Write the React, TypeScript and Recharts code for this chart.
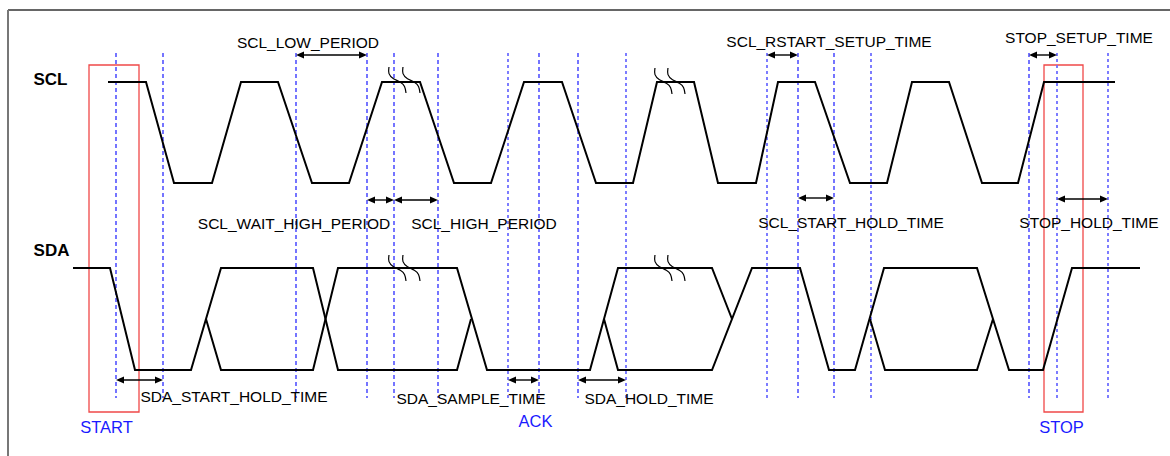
import React from 'react';
import { ComposedChart, Line, XAxis, YAxis, ReferenceLine, ReferenceArea, ReferenceDot } from 'recharts';

// ---- signal levels (diagram units, measured top-down) ----
const SCL_LEVELS: Record<string, number> = { H: 82, L: 183 };
const SDA_LEVELS: Record<string, number> = { H: 268, L: 370, M: 319 };

// ---- SCL waveform: edge times and states ----
const SCL_WAVE: [number, string][] = [
  [108, 'H'], [146, 'H'], [174, 'L'], [212, 'L'], [241, 'H'], [278, 'H'], [312, 'L'], [349, 'L'],
  [382, 'H'], [420, 'H'], [454, 'L'], [491, 'L'], [524, 'H'], [562, 'H'], [596, 'L'], [633, 'L'],
  [657, 'H'], [694, 'H'], [718, 'L'], [756, 'L'], [778, 'H'], [815, 'H'], [850, 'L'], [887, 'L'],
  [912, 'H'], [949, 'H'], [982, 'L'], [1018, 'L'], [1044, 'H'], [1115, 'H'],
];

// ---- SDA waveform (bus drawn as several traces) ----
const SDA_TRACE_1: [number, string][] = [
  [73, 'H'], [110, 'H'], [135, 'L'], [191, 'L'], [221, 'H'], [313, 'H'], [338, 'L'], [457, 'L'], [471, 'M'],
];
const SDA_TRACE_2: [number, string][] = [
  [206, 'M'], [221, 'L'], [313, 'L'], [338, 'H'], [457, 'H'], [487, 'L'], [590, 'L'], [618, 'H'], [712, 'H'], [732, 'M'],
];
const SDA_TRACE_3: [number, string][] = [
  [604, 'M'], [618, 'L'], [712, 'L'], [752, 'H'], [800, 'H'], [829, 'L'], [855, 'L'], [884, 'H'],
  [977, 'H'], [1009, 'L'], [1043, 'L'], [1072, 'H'], [1140, 'H'],
];
const SDA_TRACE_4: [number, string][] = [
  [870, 'M'], [885, 'L'], [977, 'L'], [993, 'M'],
];

// ---- break marks (time, top of mark) ----
const BREAK_MARKS: [number, number][] = [
  [389, 67], [403, 67], [655, 68], [668, 68],
  [389, 255], [403, 255], [655, 255], [668, 255],
];
const BREAK_SHAPE: [number, number][] = [[0, 0], [-1, 7], [4, 12], [12, 15], [16, 19], [17, 26]];

// ---- timing markers ----
const MARKERS_STRONG = [116, 163, 296, 367, 394, 438, 539, 578, 798, 834, 1029];
const MARKERS_SOFT = [508, 626, 767, 871, 1057, 1108];
const MARKER_SPAN = [53, 398];

// ---- timing spans ----
const SPAN_LABELS = [
  'SCL_LOW_PERIOD', 'SCL_RSTART_SETUP_TIME', 'STOP_SETUP_TIME',
  'SCL_WAIT_HIGH_PERIOD', 'SCL_HIGH_PERIOD', 'SCL_START_HOLD_TIME', 'STOP_HOLD_TIME',
  'SDA_START_HOLD_TIME', 'SDA_SAMPLE_TIME', 'SDA_HOLD_TIME',
];
const SPAN_FROM = [296, 767, 1029, 367, 394, 798, 1057, 116, 508, 578];
const SPAN_TO = [367, 798, 1057, 394, 438, 834, 1108, 163, 539, 626];
const SPAN_ARROW_Y = [55, 55, 55, 200, 200, 198, 199, 380, 380, 380];
const SPAN_TEXT_X = [308, 829, 1079, 294, 484, 851, 1089, 234, 471, 649];
const SPAN_TEXT_Y = [48, 47, 43, 229, 229, 228, 228, 402, 404, 404];

// ---- condition boxes ----
const COND_LABELS = ['START', 'ACK', 'STOP'];
const COND_TEXT_X = [106.5, 535.5, 1061.5];
const COND_TEXT_Y = [433, 427, 433];
const COND_BOX: [number, number, number, number][] = [
  [89, 139, 65, 412],
  [1044, 1083, 65, 412],
];

const SIGNAL_NAMES = ['SCL', 'SDA'];
const SIGNAL_NAME_X = [50.5, 51.5];
const SIGNAL_NAME_Y = [85, 256];

const FONT = '"Liberation Sans", Arial, Helvetica, sans-serif';

const toPts = (w: [number, string][], lv: Record<string, number>) => w.map(([t, s]) => ({ t, v: lv[s] }));

const breakPts = (t: number, y: number) => BREAK_SHAPE.map(([dx, dy]) => ({ t: t + dx, v: y + dy }));

const Arrow = (p: any) => {
  const { x1, y1, x2 } = p;
  const a = Math.min(x1, x2);
  const b = Math.max(x1, x2);
  const y = y1;
  const h = 8;
  const w = 3.5;
  return (
    <g>
      <line x1={a + 4} y1={y} x2={b - 4} y2={y} stroke="#000" strokeWidth={1.4} />
      <polygon points={`${a},${y} ${a + h},${y - w} ${a + h},${y + w}`} fill="#000" />
      <polygon points={`${b},${y} ${b - h},${y - w} ${b - h},${y + w}`} fill="#000" />
    </g>
  );
};

const textShape = (label: string, size: number, color: string, weight: string) => (p: any) => (
  <text x={p.cx} y={p.cy} textAnchor="middle" fontFamily={FONT} fontSize={size} fill={color} fontWeight={weight}>
    {label}
  </text>
);

const lineProps = {
  dataKey: 'v',
  stroke: '#000',
  dot: false,
  activeDot: false,
  legendType: 'none' as const,
  isAnimationActive: false,
};

export default function App() {
  const sdaTraces = [SDA_TRACE_1, SDA_TRACE_2, SDA_TRACE_3, SDA_TRACE_4];
  return (
    <div style={{ position: 'absolute', left: 0, top: 0, width: 1170, height: 456, background: '#fff' }}>
      <ComposedChart width={1170} height={456} margin={{ top: 0, right: 0, bottom: 0, left: 0 }}>
        <XAxis type="number" dataKey="t" domain={[0, 1170]} hide allowDataOverflow />
        <YAxis type="number" domain={[0, 456]} reversed hide allowDataOverflow />

        {/* frame */}
        <ReferenceLine segment={[{ x: 8, y: 10 }, { x: 1170, y: 10 }]} stroke="#666" strokeWidth={2} ifOverflow="visible" />
        <ReferenceLine segment={[{ x: 8, y: 10 }, { x: 8, y: 456 }]} stroke="#777" strokeWidth={2} ifOverflow="visible" />

        {/* condition boxes */}
        {COND_BOX.map(([x1, x2, y1, y2], i) => (
          <ReferenceArea key={'box' + i} x1={x1} x2={x2} y1={y1} y2={y2} fill="none" fillOpacity={0} stroke="#f04848" strokeWidth={1.3} ifOverflow="visible" />
        ))}

        {/* markers */}
        {MARKERS_STRONG.map((x) => (
          <ReferenceLine key={'ms' + x} segment={[{ x, y: MARKER_SPAN[0] }, { x, y: MARKER_SPAN[1] }]} stroke="#1a1aff" strokeWidth={1.2} strokeDasharray="4 3" />
        ))}
        {MARKERS_SOFT.map((x) => (
          <ReferenceLine key={'mf' + x} segment={[{ x, y: MARKER_SPAN[0] }, { x, y: MARKER_SPAN[1] }]} stroke="#6f6fff" strokeWidth={1.8} strokeDasharray="3 3" />
        ))}

        {/* waveforms */}
        <Line {...lineProps} data={toPts(SCL_WAVE, SCL_LEVELS)} type="linear" strokeWidth={2} />
        {sdaTraces.map((tr, i) => (
          <Line key={'sda' + i} {...lineProps} data={toPts(tr, SDA_LEVELS)} type="linear" strokeWidth={2} />
        ))}
        {BREAK_MARKS.map(([t, y], i) => (
          <Line key={'br' + i} {...lineProps} data={breakPts(t, y)} type="basis" strokeWidth={1.2} />
        ))}

        {/* spans */}
        {SPAN_LABELS.map((lab, i) => (
          <ReferenceLine key={'sp' + i} segment={[{ x: SPAN_FROM[i], y: SPAN_ARROW_Y[i] }, { x: SPAN_TO[i], y: SPAN_ARROW_Y[i] }]} shape={Arrow} />
        ))}
        {SPAN_LABELS.map((lab, i) => (
          <ReferenceDot key={'st' + i} x={SPAN_TEXT_X[i]} y={SPAN_TEXT_Y[i]} r={0} shape={textShape(lab, 15.5, '#000', 'normal')} />
        ))}
        {COND_LABELS.map((lab, i) => (
          <ReferenceDot key={'ct' + i} x={COND_TEXT_X[i]} y={COND_TEXT_Y[i]} r={0} shape={textShape(lab, 16.5, '#1a1aff', 'normal')} />
        ))}
        {SIGNAL_NAMES.map((lab, i) => (
          <ReferenceDot key={'sn' + i} x={SIGNAL_NAME_X[i]} y={SIGNAL_NAME_Y[i]} r={0} shape={textShape(lab, 17, '#000', 'bold')} />
        ))}
      </ComposedChart>
    </div>
  );
}
